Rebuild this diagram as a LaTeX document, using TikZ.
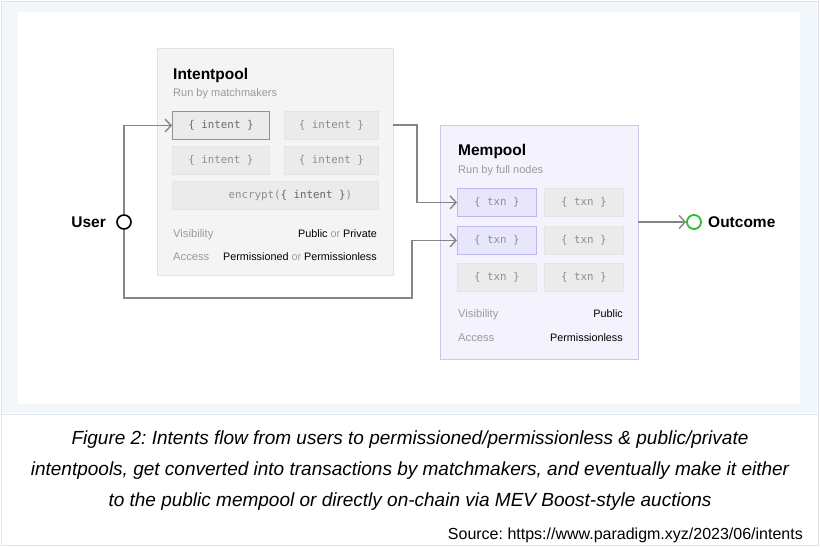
\documentclass[tikz,border=0pt]{standalone}
\usepackage{fontspec}
\setmainfont{Liberation Sans}
\newfontfamily\monof{DejaVu Sans Mono}
\usetikzlibrary{arrows.meta}
\frenchspacing
\definecolor{frame}{HTML}{DCE3EA}
\definecolor{band}{HTML}{F2F7FC}
\definecolor{poolfill}{HTML}{F4F4F4}
\definecolor{poolline}{HTML}{E2E2E2}
\definecolor{cellfill}{HTML}{EBEBEB}
\definecolor{cellline}{HTML}{E4E4E4}
\definecolor{memfill}{HTML}{F4F3FD}
\definecolor{memline}{HTML}{CCC8F0}
\definecolor{hifill}{HTML}{E8E6FA}
\definecolor{hiline}{HTML}{BDB8EE}
\definecolor{wire}{HTML}{858585}
\definecolor{lab}{HTML}{9A9A9A}
\definecolor{monogray}{HTML}{8E8E8E}
\definecolor{okgreen}{HTML}{22C02A}
\tikzset{
  x=1pt, y=-1pt,
  pool/.style={draw=poolline, fill=poolfill, line width=0.8pt},
  mem/.style={draw=memline, fill=memfill, line width=0.8pt},
  cell/.style={draw=cellline, fill=cellfill, line width=0.8pt},
  hicell/.style={draw=hiline, fill=hifill, line width=0.8pt},
  selcell/.style={draw=wire!90, fill=cellfill, line width=1pt},
  celltext/.style={font=\monof\fontsize{10.8}{12}\selectfont, text=monogray},
  title/.style={font=\bfseries\fontsize{15.5}{18}\selectfont, anchor=base west, inner sep=0pt},
  sub/.style={font=\fontsize{11}{13}\selectfont, text=lab, anchor=base west, inner sep=0pt},
  key/.style={font=\fontsize{11.2}{13}\selectfont, text=lab, anchor=base west, inner sep=0pt},
  val/.style={font=\fontsize{10.8}{13}\selectfont, anchor=base east, inner sep=0pt},
  wireln/.style={draw=wire, line width=1.8pt},
  arr/.style={wireln, -{Straight Barb[length=6pt,width=13pt,line width=1.4pt]}},
}
\begin{document}
\begin{tikzpicture}
\useasboundingbox (0,0) rectangle (820,547);
% frame
\fill[white] (0,0) rectangle (820,547);
\draw[frame, line width=1pt] (1,1) rectangle (818,545);
\fill[band] (2,2) rectangle (817,413);
\fill[white] (18,12) rectangle (800,404);
\draw[frame, line width=1pt] (1,414) -- (818,414);

% Intentpool
\path[pool] (157,48) rectangle (393,275);
\node[title] at (173,79) {Intentpool};
\node[sub] at (173,96) {Run by matchmakers};
\node[selcell, minimum width=97pt, minimum height=28pt, anchor=north west] (i1) at (172,111) {};
\node[celltext, text=wire!80!black] at (i1.center) {\{ intent \}};
\node[cell, minimum width=94pt, minimum height=28pt, anchor=north west] (i2) at (284,111) {};
\node[celltext] at (i2.center) {\{ intent \}};
\node[cell, minimum width=97pt, minimum height=28pt, anchor=north west] (i3) at (172,146) {};
\node[celltext] at (i3.center) {\{ intent \}};
\node[cell, minimum width=94pt, minimum height=28pt, anchor=north west] (i4) at (284,146) {};
\node[celltext] at (i4.center) {\{ intent \}};
\node[cell, minimum width=206pt, minimum height=28pt, anchor=north west] (i5) at (172,181) {};
\node[celltext] at ([xshift=15pt]i5.center) {encrypt(\textcolor{black!60}{\{ intent \}})};
\node[key] at (173,237) {Visibility};
\node[val] at (377,237) {Public \textcolor{lab}{or} Private};
\node[key] at (173,260) {Access};
\node[val] at (377,260) {Permissioned \textcolor{lab}{or} Permissionless};

% Mempool
\path[mem] (440,125) rectangle (638,359);
\node[title] at (458,155) {Mempool};
\node[sub] at (458,173) {Run by full nodes};
\node[hicell, minimum width=79pt, minimum height=28pt, anchor=north west] (t1) at (457,188) {};
\node[celltext] at (t1.center) {\{ txn \}};
\node[cell, minimum width=79pt, minimum height=28pt, anchor=north west] (t2) at (544,188) {};
\node[celltext] at (t2.center) {\{ txn \}};
\node[hicell, minimum width=79pt, minimum height=28pt, anchor=north west] (t3) at (457,226) {};
\node[celltext] at (t3.center) {\{ txn \}};
\node[cell, minimum width=79pt, minimum height=28pt, anchor=north west] (t4) at (544,226) {};
\node[celltext] at (t4.center) {\{ txn \}};
\node[cell, minimum width=79pt, minimum height=28pt, anchor=north west] (t5) at (457,263) {};
\node[celltext] at (t5.center) {\{ txn \}};
\node[cell, minimum width=79pt, minimum height=28pt, anchor=north west] (t6) at (544,263) {};
\node[celltext] at (t6.center) {\{ txn \}};
\node[key] at (458,317) {Visibility};
\node[val] at (623,317) {Public};
\node[key] at (458,341) {Access};
\node[val] at (623,341) {Permissionless};

% User and Outcome
\coordinate (ipR) at (393,125);
\coordinate (memR) at (638,222);
\node[circle, draw=black, fill=white, line width=1.6pt, minimum size=14pt, inner sep=0pt] (user) at (124,222) {};
\node[font=\bfseries\fontsize{15.5}{18}\selectfont, anchor=east, inner sep=0pt] (userlab) at (106,222) {User};
\node[circle, draw=okgreen, fill=white, line width=1.8pt, minimum size=14pt, inner sep=0pt] (out) at (694,222) {};
\node[font=\bfseries\fontsize{15.5}{18}\selectfont, anchor=west, inner sep=0pt] (outlab) at (708,222) {Outcome};

% connectors
\draw[arr] (user.north) |- (i1.west);
\draw[arr] (ipR) -- (417,125) |- (t1.west);
\draw[arr] (user.south) |- (412,298) |- (t3.west);
\draw[arr] (memR) -- (out.west);

% caption
\node[font=\itshape\fontsize{19}{21}\selectfont, align=center] (cap) at (410,471) {Figure 2: Intents flow from users to permissioned/permissionless \& public/private\\[10pt]
intentpools, get converted into transactions by matchmakers, and eventually make it either\\[10pt]
to the public mempool or directly on-chain via MEV Boost-style auctions};
\node[font=\fontsize{16}{18}\selectfont, anchor=base east, inner sep=0pt] (src) at (803,539) {Source: https://www.paradigm.xyz/2023/06/intents};
\end{tikzpicture}
\end{document}
